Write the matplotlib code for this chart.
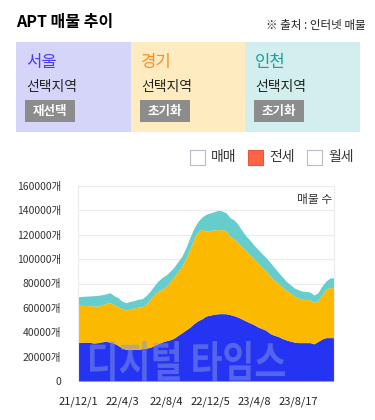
import matplotlib
matplotlib.use("Agg")
import matplotlib.pyplot as plt
import numpy as np
from matplotlib.patches import Rectangle, PathPatch
from matplotlib.textpath import TextPath
from matplotlib.font_manager import FontProperties
from matplotlib.transforms import Affine2D, ScaledTranslation

plt.rcParams['font.family'] = ['Noto Sans CJK KR', 'DejaVu Sans']

# 매물 수 (단위: 천 개), 21/12/1 ~ 23/10
seoul = [31.5, 31.8, 32.0, 31.6, 31.2, 31.5, 32.2, 32.5, 32.0, 31.0, 29.3, 27.0, 26.0,
         26.0, 26.0, 26.0, 26.5, 27.0, 27.6, 29.0, 30.6, 32.0, 33.0, 33.8, 35.2, 37.5,
         39.7, 42.0, 44.2, 47.2, 49.5, 51.1, 53.3, 54.0, 54.8, 55.2, 55.3, 55.2, 54.5,
         53.6, 52.4, 50.8, 49.2, 47.7, 46.2, 44.3, 43.0, 41.6, 39.0, 37.6, 36.6, 35.0,
         33.8, 32.8, 32.0, 31.5, 31.5, 31.5, 31.5, 30.5, 32.5, 34.5, 35.6, 35.6, 35.6]
gyeonggi = [30.6, 30.3, 30.0, 30.2, 30.3, 30.0, 30.3, 31.2, 32.3, 31.5, 31.7, 32.3, 32.3,
            33.0, 34.0, 34.6, 34.5, 36.0, 38.9, 42.0, 42.9, 43.2, 44.5, 47.7, 50.3, 52.5,
            54.7, 59.0, 64.3, 69.8, 73.0, 73.3, 69.8, 69.5, 69.1, 69.1, 68.7, 68.4, 64.0,
            63.4, 61.1, 59.2, 57.5, 55.8, 54.1, 52.2, 50.0, 48.7, 47.0, 45.4, 43.4, 42.0,
            40.7, 39.7, 38.0, 36.7, 35.7, 35.3, 35.0, 34.0, 33.5, 36.5, 39.9, 41.0, 41.0]
incheon = [7.1, 7.3, 7.6, 8.0, 8.5, 8.8, 8.3, 7.8, 8.2, 7.5, 7.4, 6.2, 6.0,
           6.3, 6.0, 6.4, 6.5, 7.0, 7.0, 7.0, 8.5, 9.6, 9.5, 8.5, 8.0, 8.0,
           8.2, 8.5, 9.5, 8.5, 8.5, 10.1, 13.7, 14.3, 15.0, 15.7, 15.5, 14.5, 15.5,
           15.2, 15.0, 13.5, 12.3, 12.0, 11.0, 11.5, 11.5, 10.9, 11.5, 10.5, 9.5, 8.8,
           7.5, 6.8, 6.5, 6.8, 6.6, 6.6, 6.5, 6.0, 6.5, 7.0, 6.6, 7.9, 8.2]
tick_idx = [0, 11, 22, 33, 44, 55]
tick_labels = ["21/12/1", "22/4/3", "22/8/4", "22/12/5", "23/4/8", "23/8/17"]
y_ticks = [0, 20000, 40000, 60000, 80000, 100000, 120000, 140000, 160000]

W, H = 375, 420
fig = plt.figure(figsize=(W / 100, H / 100), dpi=100)

def fx(x):
    return x / W

def fy(y):
    return 1 - y / H

# 제목
fig.text(fx(16), fy(22), "APT 매물 추이", fontsize=11.5, fontweight="bold", va="center", ha="left")
fig.text(fx(366), fy(25), "※ 출처 : 인터넷 매물", fontsize=8.3, va="center", ha="right", color="#222")

# 지역 패널
panels = [("서울", "#d5d5fa", "#4a3cf0", "재선택", 16),
          ("경기", "#feecc0", "#ff8a1e", "초기화", 131),
          ("인천", "#d2eeee", "#1a9e9e", "초기화", 245)]
for name, bg, fg, btn, x0 in panels:
    fig.add_artist(Rectangle((fx(x0), fy(132)), 115 / W, 90 / H, transform=fig.transFigure,
                             facecolor=bg, edgecolor="none"))
    fig.text(fx(x0 + 10), fy(63), name, fontsize=12, color=fg, va="center", ha="left")
    fig.text(fx(x0 + 10), fy(87), "선택지역", fontsize=10, color="#222", va="center", ha="left")
    fig.add_artist(Rectangle((fx(x0 + 9), fy(122)), 50 / W, 22 / H, transform=fig.transFigure,
                             facecolor="#8c8c8c", edgecolor="none"))
    fig.text(fx(x0 + 34), fy(111), btn, fontsize=9, color="white", fontweight="bold",
             va="center", ha="center")

# 범례 (체크박스)
legend_items = [("매매", 190, False), ("전세", 248, True), ("월세", 307, False)]
for lab, x0, on in legend_items:
    fig.add_artist(Rectangle((fx(x0), fy(165)), 15 / W, 15 / H, transform=fig.transFigure,
                             facecolor="#ff6347" if on else "white",
                             edgecolor="#e8553a" if on else "#b8bcc8", linewidth=0.8))
    fig.text(fx(x0 + 21), fy(157.5), lab, fontsize=10, color="#333", va="center", ha="left")

# 차트
ax = fig.add_axes([fx(78), fy(381), 256 / W, 195 / H])
x = np.arange(len(seoul))
s = np.array(seoul) * 1000
g = np.array(gyeonggi) * 1000
i = np.array(incheon) * 1000
ax.fill_between(x, 0, s, color="#2434f2", linewidth=0)
ax.fill_between(x, s, s + g, color="#fbb900", linewidth=0)
ax.fill_between(x, s + g, s + g + i, color="#66cccc", linewidth=0)

ax.set_xlim(0, len(seoul) - 1)
ax.set_ylim(0, 160000)
ax.set_yticks(y_ticks)
ax.set_yticklabels([f"{v}개" if v else "0" for v in y_ticks], fontsize=7.5, color="#333")
ax.set_xticks(tick_idx)
ax.set_xticklabels(tick_labels, fontsize=8, color="#222")
for lbl in ax.get_xticklabels():
    lbl.set_transform(lbl.get_transform() + ScaledTranslation(-0.025, 0, fig.dpi_scale_trans))
ax.tick_params(length=0)
ax.tick_params(axis="y", pad=12)
ax.tick_params(axis="x", pad=11)
ax.grid(axis="y", color="#ebebeb", linewidth=0.8)
ax.set_axisbelow(True)
for side in ["top", "bottom"]:
    ax.spines[side].set_visible(False)
for side in ["left", "right"]:
    ax.spines[side].set_color("#ebebeb")
ax.text(0.995, 0.93, "매물 수", transform=ax.transAxes, ha="right", va="center",
        fontsize=8.5, color="#333")

# 워터마크
tp = TextPath((0, 0), "디지털 타임스", size=40,
              prop=FontProperties(family="Noto Sans CJK KR", weight="bold"))
bb = tp.get_extents()
sx = 195 / bb.width
sy = 40 / bb.height
tr = Affine2D().translate(-bb.x0, -bb.y0).scale(sx, sy).translate(90, H - 381)
fig.add_artist(PathPatch(tp, transform=tr, facecolor="#8494e6", edgecolor="none", alpha=0.5))

fig.savefig("out.png", dpi=100)
